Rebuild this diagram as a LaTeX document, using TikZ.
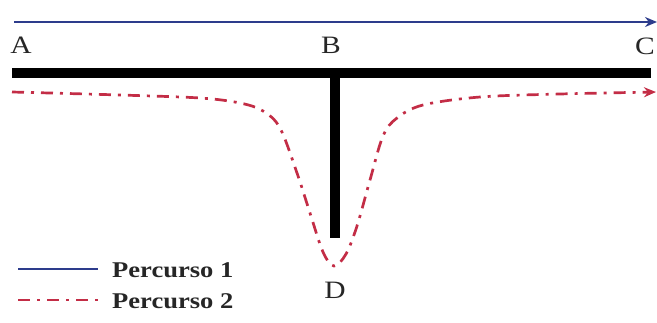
\documentclass[tikz,border=0pt]{standalone}
\usepackage{fontspec}
\setmainfont{Liberation Serif}
\newfontfamily\wideserif[FakeStretch=1.18]{Liberation Serif}
\usetikzlibrary{arrows.meta}
\definecolor{pathblue}{RGB}{45,60,140}
\definecolor{pathred}{RGB}{195,45,70}
\tikzset{
  bar/.style={line width=9.5pt, black},
  route1/.style={line width=2pt, pathblue},
  route2/.style={line width=2.7pt, pathred, dash pattern=on 12pt off 7pt on 3pt off 7pt},
  tip/.style={-{Stealth[length=12pt,width=10pt]}},
  ptlabel/.style={font=\wideserif\fontsize{25}{25}\selectfont, inner sep=0pt, text=black!85},
  legendtext/.style={font=\wideserif\bfseries\fontsize{22.5}{22.5}\selectfont, inner sep=0pt, anchor=west, text=black!85},
}
\begin{document}
\begin{tikzpicture}[x=1pt,y=-1pt]
\useasboundingbox (0,0) rectangle (657,322);
% coordinates
\coordinate (barL) at (12,73);
\coordinate (barR) at (651,73);
\coordinate (stemT) at (335,69);
\coordinate (stemB) at (335,238);
\coordinate (b1s) at (14,22);
\coordinate (b1e) at (657,22);
% bars
\draw[bar] (barL) -- (barR);
\draw[bar] (stemT) -- (stemB);
% blue route
\draw[route1, tip] (b1s) -- (b1e);
% labels
\node[ptlabel] (A) at (21,45) {A};
\node[ptlabel] (B) at (331,45) {B};
\node[ptlabel] (C) at (645,46) {C};
\node[ptlabel] (D) at (335,290) {D};
% red route
\draw[route2, tip] plot[smooth, tension=0.55] coordinates {
  (12,92) (120,95) (200,98) (240,103) (263,111) (280,128) (297,173) (310,213) (323,252) (334,266)
  (346,254) (357,226) (370,180) (383,136) (397,118) (423,105) (480,97) (560,94) (656,92)};
% legend
\coordinate (l1s) at (18,269);
\coordinate (l1e) at (98,269);
\coordinate (l2s) at (18,300);
\coordinate (l2e) at (98,300);
\draw[route1] (l1s) -- (l1e);
\draw[route2] (l2s) -- (l2e);
\node[legendtext] (t1) at (112,270) {Percurso 1};
\node[legendtext] (t2) at (112,301) {Percurso 2};
\end{tikzpicture}
\end{document}
